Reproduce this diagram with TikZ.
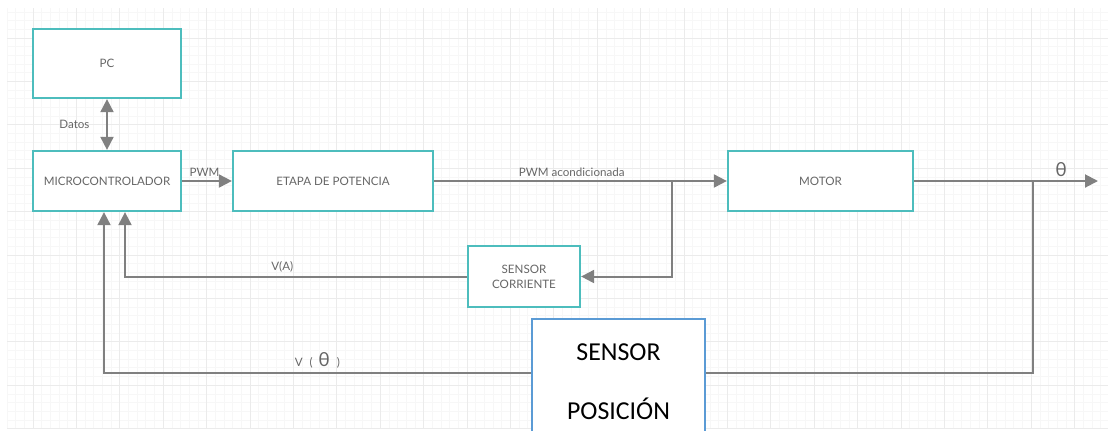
\documentclass[tikz,border=0pt]{standalone}
\usepackage{fontspec}
\setmainfont{Lato}
\newfontfamily\calib{Carlito}
\usepackage{tikz}
\usetikzlibrary{arrows.meta}

\definecolor{boxteal}{HTML}{4DBDBD}
\definecolor{boxblue}{HTML}{5B9BD5}
\definecolor{wire}{HTML}{808080}
\definecolor{txtgrey}{HTML}{666666}

\tikzset{
  bloque/.style={draw=boxteal,line width=0.45mm,fill=white,text=txtgrey,
    font=\fontsize{6.6}{8.4}\selectfont,align=center,inner sep=0pt},
  wirearr/.style={draw=wire,line width=0.4mm,-{Triangle[length=2.6mm,width=2.6mm]}},
  wireline/.style={draw=wire,line width=0.4mm},
  etiq/.style={text=txtgrey,font=\fontsize{6.6}{8.4}\selectfont,inner sep=2pt}
}

\begin{document}
\begin{tikzpicture}[x=0.2mm,y=-0.2mm]
\useasboundingbox (0,0) rectangle (1108,430);
% grid paper
\foreach \k in {-3,...,124}
  {\draw[black!3,line width=0.15mm] ({33+8.68*\k},8) -- ({33+8.68*\k},428);}
\foreach \k in {-3,...,45}
  {\draw[black!3,line width=0.15mm] (7,{38+8.68*\k}) -- (1108,{38+8.68*\k});}
\foreach \k in {0,...,24}
  {\draw[black!8,line width=0.2mm] ({33+43.4*\k},8) -- ({33+43.4*\k},428);}
\foreach \k in {0,...,9}
  {\draw[black!8,line width=0.2mm] (7,{38+43.4*\k}) -- (1108,{38+43.4*\k});}

% blocks
\node[bloque,minimum width=29.6mm,minimum height=13.8mm] (pc) at (107,63.5) {PC};
\node[bloque,minimum width=29.6mm,minimum height=12mm] (micro) at (107,181) {MICROCONTROLADOR};
\node[bloque,minimum width=40mm,minimum height=12mm] (etapa) at (333,181) {ETAPA DE POTENCIA};
\node[bloque,minimum width=37mm,minimum height=12mm] (motor) at (820.5,181) {MOTOR};
\node[bloque,minimum width=22.4mm,minimum height=12.2mm] (scorr) at (524,276.5) {SENSOR\\CORRIENTE};
\node[bloque,draw=boxblue,text=black,minimum width=34.6mm,minimum height=25.2mm,
  font=\calib\fontsize{14.7}{18}\selectfont] (spos) at (618.5,382) {SENSOR\\[15.5pt]POSICIÓN};

\coordinate (ramal) at (672,181);
\coordinate (salida) at (1098,181);
\coordinate (ramal2) at (1033,181);

% connections
\draw[wirearr,{Triangle[length=2.6mm,width=2.6mm]}-{Triangle[length=2.6mm,width=2.6mm]}]
  (pc) -- node[etiq,left=2.6mm] {Datos} (micro);
\draw[wirearr] (micro) -- node[etiq,above,pos=0.45] {PWM} (etapa);
\draw[wirearr] (etapa) -- node[etiq,above,pos=0.47] {PWM acondicionada} (motor);
\draw[wirearr] (ramal) |- (scorr);
\draw[wirearr] (scorr) -| node[etiq,above,pos=0.27] {V(A)} ([xshift=3.6mm]micro.south);
\draw[wirearr] (motor) -- node[etiq,above,pos=0.8,font=\fontsize{11}{13}\selectfont] {θ} (salida);
\draw[wireline] (ramal2) |- ([yshift=1.8mm]spos.east);
\draw[wirearr] ([yshift=1.8mm]spos.west) -| node[etiq,above,pos=0.25]
  {V\hspace{0.6em}(\hspace{0.5em}{\fontsize{11}{13}\selectfont θ}\hspace{0.6em})} ([xshift=-0.6mm]micro.south);
\end{tikzpicture}
\end{document}
